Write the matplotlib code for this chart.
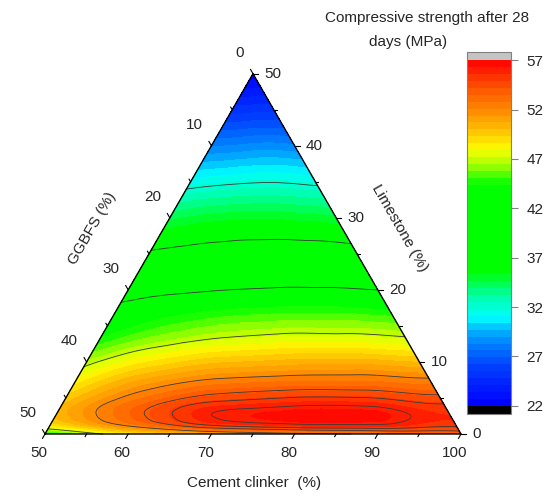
import numpy as np
import matplotlib.pyplot as plt
import matplotlib.tri as mtri
from matplotlib.colors import LinearSegmentedColormap

plt.rcParams['font.family'] = ['Liberation Sans', 'DejaVu Sans']

# rows of read-off points: limestone content (%)
limestone = [0, 1, 2, 3, 4.5, 6, 8, 10.5, 13.5, 17, 20, 27, 34, 42, 50]
# position across each row: share of the remaining binder that is GGBFS
# (0 = right edge, no GGBFS; 1 = left edge, 50 % clinker)
slag_share = [0, 0.2, 0.4, 0.6, 0.8, 1.0]
# compressive strength after 28 days (MPa), one row per limestone value
strength = [
    [53.0, 52.3, 51.5, 50.3, 48.0, 44.0],
    [55.0, 55.5, 55.3, 54.5, 51.8, 48.0],
    [55.6, 56.4, 56.4, 55.9, 53.4, 49.8],
    [55.5, 56.4, 56.4, 56.0, 53.7, 50.3],
    [54.8, 55.5, 55.5, 55.0, 53.1, 49.8],
    [53.5, 54.1, 54.1, 53.6, 52.0, 49.0],
    [51.8, 52.2, 52.1, 51.7, 50.4, 47.8],
    [49.5, 49.9, 49.8, 49.4, 48.3, 46.3],
    [47.0, 47.3, 47.3, 46.9, 46.0, 44.3],
    [44.6, 44.9, 44.9, 44.6, 43.9, 42.7],
    [42.0, 42.3, 42.3, 42.0, 41.5, 40.8],
    [36.6, 36.9, 37.0, 36.9, 36.6, 36.1],
    [32.3, 32.5, 32.6, 32.5, 32.3, 32.0],
    [27.1, 27.2, 27.2, 27.1, 27.0, 27.0],
    [22.2, 22.2, 22.2, 22.2, 22.2, 22.2],   # top corner
]

fill_levels = np.linspace(22, 57, 51)
line_levels = [32, 37, 42, 47, 52, 54, 55, 56]
cbar_ticks = [22, 27, 32, 37, 42, 47, 52, 57]

# rainbow
cmap_stops = [22, 26, 29, 31, 33, 35.5, 44.5, 46.5, 48, 50.5, 53, 55, 57]
cmap_colors = ['#0000ff', '#0040ff', '#0099ff', '#00ffff', '#00ffaa', '#00ff00',
               '#00ff00', '#aaff00', '#ffff00', '#ffb000', '#ff7000', '#ff4000',
               '#ff0000']

H = np.sqrt(3) / 2
PX = 1 / 416.0     # one pixel in triangle units

# structured mesh in (share, limestone) space, then mapped to the ternary plane
nr, nc = len(limestone), len(slag_share)
u = np.tile(slag_share, nr)
w = np.repeat(limestone, nc) / 50.0
z = np.array(strength).ravel()
cells = []
for i in range(nr - 1):
    for j in range(nc - 1):
        k = i * nc + j
        cells.append([k, k + 1, k + nc + 1])
        cells.append([k, k + nc + 1, k + nc])
tri_uw = mtri.Triangulation(u, w, triangles=cells)
interp = mtri.CubicTriInterpolator(tri_uw, z, kind='min_E')
fine, z_f = mtri.UniformTriRefiner(tri_uw).refine_field(z, triinterpolator=interp, subdiv=5)

Lf = fine.y * 50
x_f = (1 - fine.x) * (1 - Lf / 100) + fine.x * Lf / 100
y_f = Lf / 50 * H
t = fine.triangles
area = np.abs((x_f[t[:, 1]] - x_f[t[:, 0]]) * (y_f[t[:, 2]] - y_f[t[:, 0]])
              - (x_f[t[:, 2]] - x_f[t[:, 0]]) * (y_f[t[:, 1]] - y_f[t[:, 0]]))
tri_xy = mtri.Triangulation(x_f, y_f, triangles=t, mask=area < 1e-12)

pos = [(v - 22) / 35 for v in cmap_stops]
cmap = LinearSegmentedColormap.from_list('rb', list(zip(pos, cmap_colors)))
cmap.set_under('black')
cmap.set_over('#c4c4c4')

fig = plt.figure(figsize=(5.58, 4.97), dpi=100)
ax = fig.add_axes([0, 0, 1, 1])
ax.set_xlim(-45 * PX, 513 * PX)
ax.set_ylim(-63 * PX, 434 * PX)
ax.axis('off')

cf = ax.tricontourf(tri_xy, z_f, levels=fill_levels, cmap=cmap, extend='both')
ax.tricontour(tri_xy, z_f, levels=line_levels, colors='#3a3a3a', linewidths=0.6)
ax.plot([0, 1, 0.5, 0], [0, 0, H, 0], color='black', lw=1.0)

tc = '#262626'
for v in range(0, 51, 5):
    n = (5 if v % 10 == 0 else 3) * PX
    # bottom: cement clinker
    bx, by = v / 50, 0
    ax.plot([bx, bx - 0.5 * n], [by, by - H * n], color='black', lw=0.8)
    # right: limestone
    rx, ry = 1 - v / 100, v / 50 * H
    ax.plot([rx, rx + n], [ry, ry], color='black', lw=0.8)
    # left: GGBFS
    lx, ly = (50 - v) / 100, (50 - v) / 50 * H
    ax.plot([lx, lx - 0.5 * n], [ly, ly + H * n], color='black', lw=0.8)
    if v % 10 == 0:
        ax.text(bx - 6 * PX, by - 19 * PX, str(50 + v), ha='center', va='center',
                fontsize=11, color=tc)
        ax.text(rx + 11 * PX, ry, str(v), ha='left', va='center', fontsize=11, color=tc)
        ax.text(lx - 9 * PX, ly + 21 * PX, str(v), ha='right', va='center',
                fontsize=11, color=tc)

fig.text(254 / 558, 1 - 483 / 497, 'Cement clinker  (%)', ha='center', va='center',
         fontsize=11, color=tc)
fig.text(92 / 558, 1 - 228 / 497, 'GGBFS (%)', ha='center', va='center',
         rotation=60, fontsize=11, color=tc)
fig.text(400 / 558, 1 - 228 / 497, 'Limestone (%)', ha='center', va='center',
         rotation=-60, fontsize=11, color=tc)
fig.text(427 / 558, 1 - 18 / 497, 'Compressive strength after 28', ha='center',
         va='center', fontsize=11, color=tc)
fig.text(408 / 558, 1 - 42 / 497, 'days (MPa)', ha='center', va='center',
         fontsize=11, color=tc)

cax = fig.add_axes([467 / 558, 1 - 414 / 497, 44 / 558, 362 / 497])
cb = fig.colorbar(cf, cax=cax, ticks=cbar_ticks, extendrect=True, extendfrac=0.024)
cb.outline.set_edgecolor('#808080')
cb.outline.set_linewidth(0.8)
cax.tick_params(labelsize=11, colors=tc, length=5, width=0.8, pad=6)
cb.ax.yaxis.set_tick_params(color='#808080')

fig.savefig('out.png', dpi=100)
